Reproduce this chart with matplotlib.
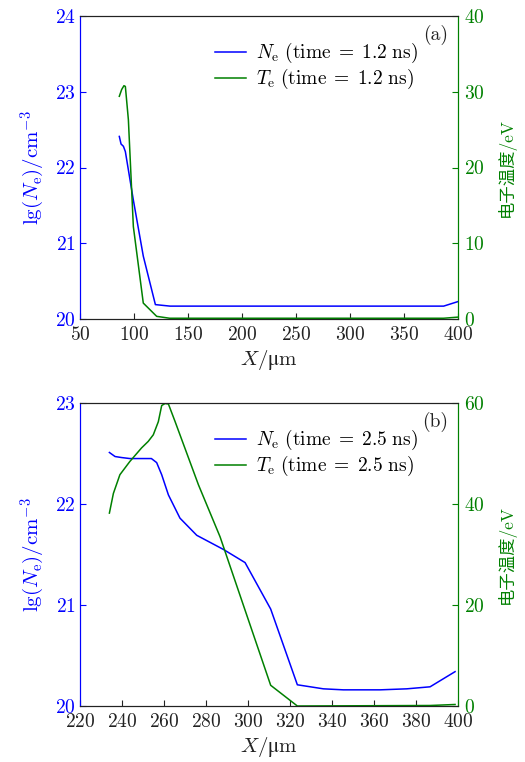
import numpy as np
import matplotlib
matplotlib.use("Agg")
from matplotlib import pyplot as plt

plt.rcParams['font.family'] = ['cmr10', 'STIXGeneral', 'Noto Sans CJK SC', 'DejaVu Sans']
plt.rcParams['mathtext.fontset'] = 'custom'
plt.rcParams['mathtext.rm'] = 'cmr10'
plt.rcParams['mathtext.it'] = 'cmmi10'
plt.rcParams['mathtext.bf'] = 'cmb10'
plt.rcParams['mathtext.fallback'] = 'stix'
plt.rcParams['axes.formatter.use_mathtext'] = True
plt.rcParams['axes.unicode_minus'] = False
plt.rcParams['font.size'] = 14

BLUE = '#0000ff'
GREEN = '#008000'
DARK = '#222222'

# (a) t = 1.2 ns
x_ne_a = [86.4, 88.0, 90.2, 92.0, 99.4, 108.6, 119.8, 133.4, 386.7, 400.0]
ne_a = [22.41, 22.31, 22.28, 22.21, 21.57, 20.83, 20.19, 20.17, 20.17, 20.23]
x_te_a = [86.4, 88.6, 90.7, 92.0, 94.8, 99.4, 108.6, 121.0, 133.0, 386.7, 400.0]
te_a = [29.4, 30.3, 30.8, 30.7, 26.3, 12.2, 2.1, 0.35, 0.1, 0.1, 0.25]

# (b) t = 2.5 ns
x_ne_b = [234.0, 236.7, 239.8, 243.7, 254.0, 256.5, 258.9, 262.1, 267.6, 275.6,
          288.3, 298.6, 310.8, 323.5, 335.9, 345.4, 362.9, 375.6, 386.7, 398.6]
ne_b = [22.51, 22.47, 22.46, 22.45, 22.45, 22.41, 22.29, 22.09, 21.86, 21.69,
        21.55, 21.42, 20.96, 20.21, 20.17, 20.16, 20.16, 20.17, 20.19, 20.34]
x_te_b = [234.0, 235.9, 239.0, 243.7, 249.3, 252.5, 254.9, 257.3, 258.9, 260.5,
          262.1, 265.3, 276.4, 286.7, 310.8, 323.5, 386.7, 398.6]
te_b = [38.2, 42.1, 45.8, 48.4, 51.1, 52.4, 53.7, 56.3, 59.5, 59.9,
        59.8, 56.3, 43.8, 33.5, 4.1, 0.0, 0.1, 0.3]

panels = [
    dict(xn=x_ne_a, n=ne_a, xt=x_te_a, t=te_a, time='1.2', tag='(a)',
         xlim=(50, 400), xticks=np.arange(50, 401, 50),
         nlim=(20, 24), nticks=[20, 21, 22, 23, 24],
         tlim=(0, 40), tticks=[0, 10, 20, 30, 40]),
    dict(xn=x_ne_b, n=ne_b, xt=x_te_b, t=te_b, time='2.5', tag='(b)',
         xlim=(220, 400), xticks=np.arange(220, 401, 20),
         nlim=(20, 23), nticks=[20, 21, 22, 23],
         tlim=(0, 60), tticks=[0, 20, 40, 60]),
]

fig = plt.figure(figsize=(5.25, 7.62), dpi=100)
W, H = 525.0, 762.0
boxes = [(80, 16, 458, 319), (80, 403, 458, 706)]

for p, (l, t, r, b) in zip(panels, boxes):
    ax = fig.add_axes([l / W, 1 - b / H, (r - l) / W, (b - t) / H])
    ax2 = ax.twinx()

    l1, = ax.plot(p['xn'], p['n'], color=BLUE, lw=1.1)
    l2, = ax2.plot(p['xt'], p['t'], color=GREEN, lw=1.1)

    ax.set_xlim(*p['xlim'])
    ax.set_xticks(p['xticks'])
    ax.set_ylim(*p['nlim'])
    ax.set_yticks(p['nticks'])
    ax2.set_ylim(*p['tlim'])
    ax2.set_yticks(p['tticks'])

    ax.tick_params(axis='x', direction='in', length=4, colors=DARK, pad=5, top=False)
    ax.tick_params(axis='y', direction='in', length=4, colors=BLUE, labelcolor=BLUE, pad=3)
    ax2.tick_params(axis='y', direction='in', length=4, colors=GREEN, labelcolor=GREEN, pad=4)

    for a in (ax, ax2):
        a.spines['top'].set_color(DARK)
        a.spines['bottom'].set_color(DARK)
        a.spines['left'].set_color(BLUE)
        a.spines['right'].set_color(GREEN)

    ax.set_xlabel(r'$X/\mathrm{μm}$', color=DARK, labelpad=3, fontsize=15)
    ax.set_ylabel(r'$\mathrm{lg}(N_\mathrm{e})/\mathrm{cm}^{-3}$', color=BLUE,
                  labelpad=6, fontsize=15)
    ax2.set_ylabel('电子温度/eV', color=GREEN, labelpad=9, fontsize=12.5)

    ax.legend([l1, l2],
              [r'$N_\mathrm{e}\ (\mathrm{time}\;=\;%s\ \mathrm{ns})$' % p['time'],
               r'$T_\mathrm{e}\ (\mathrm{time}\;=\;%s\ \mathrm{ns})$' % p['time']],
              loc='upper right', bbox_to_anchor=(0.925, 0.955),
              frameon=False, handlelength=1.6, handletextpad=0.5,
              labelspacing=0.1, borderaxespad=0.2, fontsize=14)
    ax.text(0.975, 0.97, p['tag'], transform=ax.transAxes,
            ha='right', va='top', color=DARK)

fig.savefig('out.png', dpi=100)
